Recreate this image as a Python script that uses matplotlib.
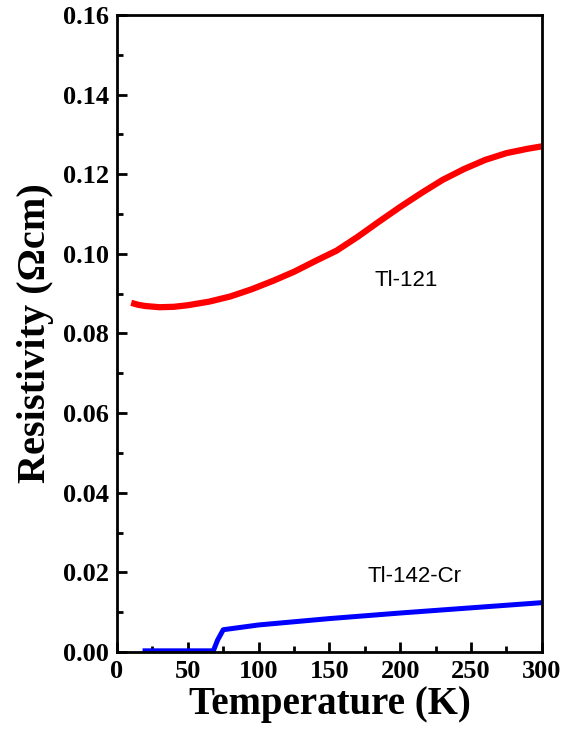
import matplotlib.pyplot as plt
from matplotlib.ticker import MultipleLocator

# Tl-121 resistivity
t_121 = [10, 15, 20, 30, 40, 50, 65, 80, 95, 110, 125, 140, 155, 170, 185,
         200, 215, 230, 245, 260, 275, 290, 300]
r_121 = [0.0877, 0.0872, 0.0869, 0.0866, 0.0867, 0.0871, 0.0880, 0.0893, 0.0911,
         0.0932, 0.0955, 0.0982, 0.1008, 0.1043, 0.1081, 0.1118, 0.1153, 0.1186,
         0.1213, 0.1236, 0.1253, 0.1264, 0.1270]

# Tl-142-Cr resistivity
t_142 = [18, 30, 50, 68, 71, 75, 100, 150, 200, 250, 300]
r_142 = [0.0003, 0.0003, 0.0003, 0.0003, 0.0030, 0.0056, 0.0068, 0.0084, 0.0098, 0.0111, 0.0124]

fig = plt.figure(figsize=(5.71, 7.37), dpi=100)
ax = fig.add_axes([0.205, 0.1153, 0.744, 0.8644])

ax.plot(t_121, r_121, color="#ff0000", lw=4.5, solid_capstyle="butt")
ax.plot(t_142, r_142, color="#0000ff", lw=3.6, solid_capstyle="butt")

ax.text(204, 0.0934, "Tl-121", fontsize=16, family="Liberation Sans", ha="center", va="center")
ax.text(210, 0.0189, "Tl-142-Cr", fontsize=16, family="Liberation Sans", ha="center", va="center")

ax.set_xlim(0, 300)
ax.set_ylim(0, 0.16)
ax.xaxis.set_major_locator(MultipleLocator(50))
ax.xaxis.set_minor_locator(MultipleLocator(25))
ax.yaxis.set_major_locator(MultipleLocator(0.02))
ax.yaxis.set_minor_locator(MultipleLocator(0.01))
ax.yaxis.set_major_formatter(plt.FormatStrFormatter("%.2f"))

ax.tick_params(which="major", direction="in", length=7, width=2, labelsize=19, pad=6)
ax.tick_params(which="minor", direction="in", length=4, width=2)
for lab in ax.get_xticklabels() + ax.get_yticklabels():
    lab.set_family("Liberation Serif")
    lab.set_fontweight("bold")
for s in ax.spines.values():
    s.set_linewidth(2)

ax.set_xlabel("Temperature (K)", fontsize=28, family="Liberation Serif", fontweight="bold", labelpad=2)
ax.set_ylabel("Resistivity (Ωcm)", fontsize=29, family="Liberation Serif", fontweight="bold", labelpad=6)

fig.savefig("out.png", dpi=100)
